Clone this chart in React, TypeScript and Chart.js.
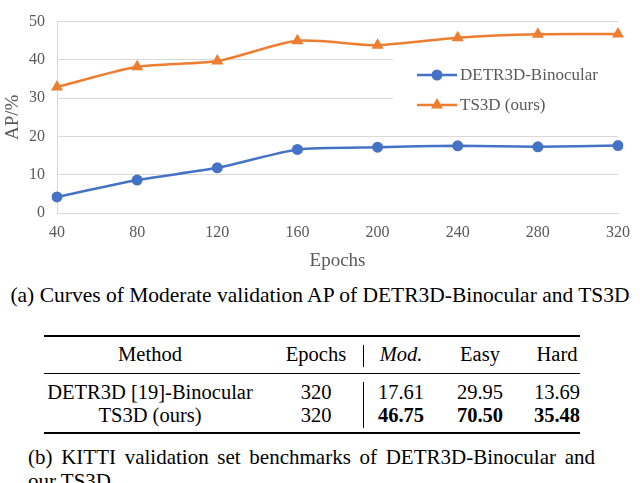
import React, { useEffect, useRef } from 'react';
import { Chart, registerables } from 'chart.js';

Chart.register(...registerables);

const epochs = ['40', '80', '120', '160', '200', '240', '280', '320'];
const detrAP = [4.2, 8.6, 11.8, 16.6, 17.2, 17.55, 17.3, 17.61];
const ts3dAP = [32.9, 38.2, 39.7, 45.0, 43.85, 45.8, 46.7, 46.75];
const seriesNames = ['DETR3D-Binocular', 'TS3D (ours)'];
const seriesColors = ['#4472C4', '#ED7D31'];
const yMin = 0;
const yMax = 50;
const yStep = 10;

const captionA = '(a) Curves of Moderate validation AP of DETR3D-Binocular and TS3D';
const captionB1 = '(b) KITTI validation set benchmarks of DETR3D-Binocular and';
const captionB2 = 'our TS3D';
const tableHeader = ['Method', 'Epochs', 'Mod.', 'Easy', 'Hard'];
const tableMethods = ['DETR3D [19]-Binocular', 'TS3D (ours)'];
const tableEpochs = ['320', '320'];
const tableMod = ['17.61', '46.75'];
const tableEasy = ['29.95', '70.50'];
const tableHard = ['13.69', '35.48'];
const boldRow = 1;

const SERIF = '"Liberation Serif", Tinos, "Times New Roman", Times, "DejaVu Serif", "Noto Serif", serif';
const GRAY = '#595959';

const legendPlugin = {
  id: 'insideLegend',
  beforeDatasetsDraw(chart: any) {
    const ctx = chart.ctx as CanvasRenderingContext2D;
    ctx.save();
    ctx.fillStyle = '#ffffff';
    ctx.fillRect(393, 58, 230, 64);
    const rows = [75, 105];
    chart.data.datasets.forEach((ds: any, i: number) => {
      const y = rows[i];
      ctx.strokeStyle = ds.borderColor;
      ctx.lineWidth = 2.5;
      ctx.beginPath();
      ctx.moveTo(417, y);
      ctx.lineTo(457, y);
      ctx.stroke();
      ctx.fillStyle = ds.borderColor;
      ctx.beginPath();
      if (ds.pointStyle === 'triangle') {
        const r = 7;
        ctx.moveTo(437, y - r);
        ctx.lineTo(437 + r * 0.866, y + r * 0.5);
        ctx.lineTo(437 - r * 0.866, y + r * 0.5);
        ctx.closePath();
      } else {
        ctx.arc(437, y, 5.5, 0, Math.PI * 2);
      }
      ctx.fill();
      ctx.fillStyle = GRAY;
      ctx.font = `17px ${SERIF}`;
      ctx.textBaseline = 'middle';
      ctx.textAlign = 'left';
      ctx.fillText(ds.label, 460, y + 1);
    });
    ctx.restore();
  },
};

function Cell({ x, y, text, bold, italic, size = 20.5 }: any) {
  return (
    <div
      style={{
        position: 'absolute',
        left: x,
        top: y,
        transform: 'translate(-50%, -50%)',
        whiteSpace: 'nowrap',
        lineHeight: 1,
        fontSize: size,
        fontFamily: SERIF,
        fontWeight: bold ? 'bold' : 'normal',
        fontStyle: italic ? 'italic' : 'normal',
        color: '#000',
      }}
    >
      {text}
    </div>
  );
}

export default function App() {
  const canvasRef = useRef<HTMLCanvasElement | null>(null);

  useEffect(() => {
    document.body.style.margin = '0';
    const canvas = canvasRef.current;
    if (!canvas) return;
    const chart = new Chart(canvas, {
      type: 'line',
      data: {
        labels: epochs,
        datasets: [
          {
            label: seriesNames[0],
            data: detrAP,
            borderColor: seriesColors[0],
            backgroundColor: seriesColors[0],
            borderWidth: 2.5,
            pointStyle: 'circle',
            pointRadius: 5.5,
            pointBorderWidth: 0,
            tension: 0.2,
          },
          {
            label: seriesNames[1],
            data: ts3dAP,
            borderColor: seriesColors[1],
            backgroundColor: seriesColors[1],
            borderWidth: 2.5,
            pointStyle: 'triangle',
            pointRadius: 7,
            pointBorderWidth: 0,
            tension: 0.25,
          },
        ],
      },
      options: {
        animation: false,
        responsive: false,
        maintainAspectRatio: false,
        devicePixelRatio: 1,
        layout: { padding: { left: 0, right: 12, top: 7, bottom: 0 } },
        plugins: {
          legend: { display: false },
          tooltip: { enabled: false },
        },
        scales: {
          x: {
            type: 'category',
            offset: false,
            grid: { display: false, drawTicks: false },
            border: { display: true, color: '#d9d9d9', width: 1 },
            ticks: {
              color: GRAY,
              font: { family: SERIF, size: 16 },
              padding: 10,
              maxRotation: 0,
              autoSkip: false,
            },
            title: {
              display: true,
              text: 'Epochs',
              color: GRAY,
              font: { family: SERIF, size: 19 },
              padding: { top: 0, bottom: 8 },
            },
            afterFit(scale: any) {
              scale.height = 67;
            },
          },
          y: {
            min: yMin,
            max: yMax,
            ticks: {
              stepSize: yStep,
              color: GRAY,
              font: { family: SERIF, size: 16 },
              padding: 12,
            },
            grid: { color: '#d9d9d9', drawTicks: false, lineWidth: 1 },
            border: { display: true, color: '#d9d9d9', width: 1 },
            title: {
              display: true,
              text: 'AP/%',
              color: GRAY,
              font: { family: SERIF, size: 19 },
              padding: { top: 2, bottom: 0 },
            },
            afterFit(scale: any) {
              scale.width = 57;
            },
          },
        },
      },
      plugins: [legendPlugin],
    });
    return () => chart.destroy();
  }, []);

  const colX = [150, 316, 401, 480, 557];
  const headerY = 354;
  const rowY = [392, 415];

  return (
    <div
      style={{
        position: 'relative',
        width: 640,
        height: 483,
        overflow: 'hidden',
        background: '#fff',
        fontFamily: SERIF,
      }}
    >
      <canvas ref={canvasRef} width={640} height={280} style={{ position: 'absolute', left: 0, top: 0, width: 640, height: 280 }} />
      <div
        style={{
          position: 'absolute',
          left: 0,
          width: 640,
          top: 296,
          transform: 'translateY(-50%)',
          textAlign: 'center',
          fontSize: 21.5,
          lineHeight: 1,
          whiteSpace: 'nowrap',
          color: '#000',
        }}
      >
        {captionA}
      </div>

      <div style={{ position: 'absolute', left: 44, width: 536, top: 335, height: 2, background: '#000' }} />
      <div style={{ position: 'absolute', left: 44, width: 536, top: 373, height: 1, background: '#000' }} />
      <div style={{ position: 'absolute', left: 44, width: 536, top: 432, height: 2, background: '#000' }} />
      <div style={{ position: 'absolute', left: 363, width: 1, top: 345, height: 22, background: '#000' }} />
      <div style={{ position: 'absolute', left: 363, width: 1, top: 382, height: 46, background: '#000' }} />

      {tableHeader.map((h, i) => (
        <Cell key={'h' + i} x={colX[i]} y={headerY} text={h} italic={i === 2} />
      ))}
      {tableMethods.map((m, r) => (
        <React.Fragment key={'r' + r}>
          <Cell x={colX[0]} y={rowY[r]} text={m} />
          <Cell x={colX[1]} y={rowY[r]} text={tableEpochs[r]} />
          <Cell x={colX[2]} y={rowY[r]} text={tableMod[r]} bold={r === boldRow} />
          <Cell x={colX[3]} y={rowY[r]} text={tableEasy[r]} bold={r === boldRow} />
          <Cell x={colX[4]} y={rowY[r]} text={tableHard[r]} bold={r === boldRow} />
        </React.Fragment>
      ))}

      <div
        style={{
          position: 'absolute',
          left: 28,
          width: 567,
          top: 457,
          transform: 'translateY(-50%)',
          fontSize: 21,
          lineHeight: 1,
          textAlign: 'justify',
          textAlignLast: 'justify' as any,
          whiteSpace: 'normal',
          color: '#000',
        }}
      >
        {captionB1}
      </div>
      <div
        style={{
          position: 'absolute',
          left: 28,
          top: 481,
          transform: 'translateY(-50%)',
          fontSize: 21,
          lineHeight: 1,
          whiteSpace: 'nowrap',
          color: '#000',
        }}
      >
        {captionB2}
      </div>
    </div>
  );
}
